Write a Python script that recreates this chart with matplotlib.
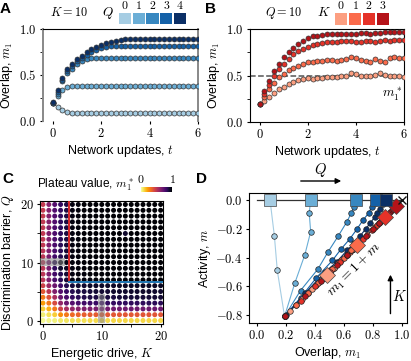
import numpy as np
import matplotlib
matplotlib.use("Agg")
import matplotlib.pyplot as plt
from matplotlib.ticker import FormatStrFormatter, MultipleLocator
from matplotlib.patches import Rectangle

plt.rcParams['font.family'] = ['Liberation Sans', 'DejaVu Sans']
plt.rcParams['mathtext.fontset'] = 'cm'
plt.rcParams['font.size'] = 9
plt.rcParams['axes.labelsize'] = 9
plt.rcParams['xtick.labelsize'] = 9
plt.rcParams['ytick.labelsize'] = 9
plt.rcParams['xtick.major.size'] = 2.5
plt.rcParams['ytick.major.size'] = 2.5
plt.rcParams['xtick.minor.size'] = 2.5
plt.rcParams['ytick.minor.size'] = 2.5
plt.rcParams['xtick.major.pad'] = 2
plt.rcParams['ytick.major.pad'] = 2

# ---- data ----
t = np.linspace(0, 6, 31)

# panel A: K = 10, Q = 0..4
a_q0 = [0.20, 0.15, 0.12, 0.10, 0.09, 0.09, 0.09, 0.09, 0.09, 0.09, 0.09, 0.09, 0.09, 0.09, 0.09, 0.09,
        0.09, 0.09, 0.09, 0.09, 0.09, 0.09, 0.09, 0.09, 0.09, 0.09, 0.09, 0.09, 0.09, 0.09, 0.09]
a_q1 = [0.20, 0.27, 0.34, 0.37, 0.38, 0.38, 0.38, 0.38, 0.38, 0.38, 0.38, 0.38, 0.38, 0.38, 0.38, 0.38,
        0.38, 0.38, 0.38, 0.38, 0.38, 0.38, 0.38, 0.38, 0.38, 0.38, 0.38, 0.38, 0.38, 0.38, 0.38]
a_q2 = [0.20, 0.29, 0.43, 0.52, 0.57, 0.62, 0.65, 0.67, 0.68, 0.68, 0.68, 0.68, 0.68, 0.68, 0.68, 0.68,
        0.68, 0.68, 0.68, 0.68, 0.68, 0.68, 0.68, 0.68, 0.68, 0.68, 0.68, 0.68, 0.68, 0.68, 0.68]
a_q3 = [0.20, 0.31, 0.45, 0.54, 0.60, 0.65, 0.69, 0.72, 0.75, 0.77, 0.79, 0.80, 0.81, 0.82, 0.82, 0.82,
        0.82, 0.82, 0.82, 0.82, 0.82, 0.82, 0.82, 0.82, 0.82, 0.82, 0.82, 0.82, 0.82, 0.82, 0.82]
a_q4 = [0.21, 0.34, 0.47, 0.56, 0.62, 0.67, 0.71, 0.75, 0.78, 0.80, 0.83, 0.85, 0.86, 0.87, 0.88, 0.89,
        0.89, 0.89, 0.89, 0.89, 0.89, 0.89, 0.89, 0.89, 0.89, 0.89, 0.89, 0.89, 0.89, 0.89, 0.89]
a_series = [a_q0, a_q1, a_q2, a_q3, a_q4]
a_labels = ['0', '1', '2', '3', '4']
blues = ['#a6cde3', '#6baed6', '#3787c0', '#1461a8', '#0b2f66']

# panel B: Q = 10, K = 0..3
b_k0 = [0.19, 0.23, 0.27, 0.31, 0.35, 0.38, 0.41, 0.43, 0.45, 0.46, 0.47, 0.46, 0.47, 0.47, 0.48, 0.48,
        0.48, 0.49, 0.50, 0.53, 0.52, 0.50, 0.50, 0.49, 0.51, 0.53, 0.51, 0.50, 0.50, 0.49, 0.48]
b_k1 = [0.19, 0.27, 0.35, 0.42, 0.48, 0.52, 0.56, 0.58, 0.60, 0.62, 0.64, 0.65, 0.66, 0.66, 0.67, 0.67,
        0.66, 0.67, 0.68, 0.70, 0.69, 0.67, 0.66, 0.65, 0.68, 0.66, 0.65, 0.69, 0.70, 0.69, 0.69]
b_k2 = [0.19, 0.30, 0.40, 0.50, 0.57, 0.62, 0.68, 0.73, 0.76, 0.79, 0.81, 0.83, 0.84, 0.85, 0.86, 0.86,
        0.86, 0.87, 0.87, 0.87, 0.86, 0.86, 0.87, 0.87, 0.86, 0.87, 0.88, 0.87, 0.88, 0.88, 0.88]
b_k3 = [0.19, 0.33, 0.44, 0.55, 0.62, 0.70, 0.75, 0.80, 0.84, 0.87, 0.90, 0.92, 0.93, 0.94, 0.95, 0.95,
        0.95, 0.95, 0.95, 0.95, 0.95, 0.96, 0.96, 0.95, 0.96, 0.96, 0.97, 0.97, 0.97, 0.97, 0.97]
b_series = [b_k0, b_k1, b_k2, b_k3]
b_labels = ['0', '1', '2', '3']
reds = ['#fc9f81', '#fb6b4b', '#e53228', '#b51319']

# panel C: plateau value m1* on the (K, Q) grid, rows Q = 0..20, columns K = 0..20
k_grid = np.arange(21)
q_grid = np.arange(21)
c_rows = [
    [0.02, 0.03, 0.04, 0.06, 0.07, 0.08, 0.08, 0.08, 0.09, 0.09, 0.09, 0.09, 0.10, 0.10, 0.10, 0.10, 0.10, 0.10, 0.10, 0.10, 0.10],
    [0.05, 0.08, 0.12, 0.25, 0.30, 0.33, 0.35, 0.36, 0.37, 0.37, 0.37, 0.38, 0.38, 0.38, 0.38, 0.38, 0.38, 0.39, 0.39, 0.39, 0.39],
    [0.12, 0.18, 0.30, 0.45, 0.55, 0.60, 0.63, 0.65, 0.66, 0.67, 0.68, 0.68, 0.69, 0.69, 0.69, 0.70, 0.70, 0.70, 0.70, 0.70, 0.70],
    [0.22, 0.30, 0.42, 0.60, 0.70, 0.75, 0.78, 0.80, 0.81, 0.82, 0.82, 0.83, 0.83, 0.83, 0.84, 0.84, 0.84, 0.84, 0.85, 0.85, 0.85],
    [0.30, 0.40, 0.55, 0.70, 0.78, 0.83, 0.85, 0.87, 0.88, 0.88, 0.89, 0.89, 0.89, 0.90, 0.90, 0.90, 0.90, 0.90, 0.90, 0.91, 0.91],
    [0.38, 0.50, 0.65, 0.75, 0.82, 0.86, 0.88, 0.89, 0.90, 0.91, 0.91, 0.91, 0.92, 0.92, 0.92, 0.92, 0.92, 0.92, 0.92, 0.92, 0.92],
    [0.45, 0.58, 0.70, 0.80, 0.86, 0.90, 0.92, 0.92, 0.93, 0.93, 0.93, 0.93, 0.93, 0.94, 0.94, 0.94, 0.94, 0.94, 0.94, 0.94, 0.94],
    [0.50, 0.65, 0.78, 0.85, 0.90, 0.97, 0.98, 0.98, 0.98, 0.99, 0.99, 0.99, 0.99, 0.99, 0.99, 0.99, 0.99, 0.99, 0.99, 0.99, 0.99],
    [0.50, 0.66, 0.80, 0.86, 0.91, 0.97, 0.98, 0.98, 0.99, 0.99, 0.99, 0.99, 0.99, 0.99, 0.99, 0.99, 0.99, 0.99, 0.99, 0.99, 0.99],
    [0.50, 0.67, 0.84, 0.92, 0.94, 0.97, 0.98, 0.99, 0.99, 0.99, 0.99, 0.99, 0.99, 0.99, 0.99, 0.99, 0.99, 0.99, 0.99, 0.99, 0.99],
    [0.50, 0.68, 0.87, 0.97, 0.96, 0.98, 0.98, 0.99, 0.99, 0.99, 0.99, 0.99, 0.99, 0.99, 0.99, 0.99, 0.99, 0.99, 0.99, 0.99, 0.99],
    [0.50, 0.67, 0.80, 0.86, 0.90, 0.97, 0.98, 0.99, 0.99, 0.99, 0.99, 0.99, 0.99, 0.99, 0.99, 0.99, 0.99, 0.99, 0.99, 0.99, 0.99],
    [0.50, 0.66, 0.78, 0.85, 0.90, 0.97, 0.98, 0.99, 0.99, 0.99, 0.99, 0.99, 0.99, 0.99, 0.99, 0.99, 0.99, 0.99, 0.99, 0.99, 0.99],
    [0.49, 0.66, 0.78, 0.85, 0.90, 0.97, 0.98, 0.99, 0.99, 0.99, 0.99, 0.99, 0.99, 0.99, 0.99, 0.99, 0.99, 0.99, 0.99, 0.99, 0.99],
    [0.49, 0.65, 0.77, 0.85, 0.89, 0.97, 0.98, 0.99, 0.99, 0.99, 0.99, 0.99, 0.99, 0.99, 0.99, 0.99, 0.99, 0.99, 0.99, 0.99, 0.99],
    [0.49, 0.65, 0.77, 0.84, 0.89, 0.97, 0.98, 0.99, 0.99, 0.99, 0.99, 0.99, 0.99, 0.99, 0.92, 0.99, 0.99, 0.99, 0.99, 0.99, 0.99],
    [0.49, 0.65, 0.77, 0.84, 0.89, 0.97, 0.98, 0.99, 0.99, 0.99, 0.99, 0.99, 0.99, 0.99, 0.99, 0.99, 0.99, 0.99, 0.99, 0.99, 0.99],
    [0.49, 0.64, 0.76, 0.84, 0.89, 0.97, 0.98, 0.99, 0.99, 0.99, 0.99, 0.99, 0.99, 0.99, 0.99, 0.99, 0.99, 0.99, 0.99, 0.99, 0.99],
    [0.48, 0.64, 0.76, 0.83, 0.88, 0.97, 0.98, 0.99, 0.99, 0.99, 0.99, 0.99, 0.99, 0.99, 0.99, 0.99, 0.99, 0.99, 0.99, 0.99, 0.99],
    [0.48, 0.64, 0.76, 0.83, 0.88, 0.97, 0.98, 0.99, 0.99, 0.99, 0.99, 0.99, 0.99, 0.99, 0.99, 0.99, 0.99, 0.99, 0.99, 0.99, 0.99],
    [0.48, 0.63, 0.75, 0.83, 0.88, 0.97, 0.98, 0.99, 0.99, 0.99, 0.99, 0.99, 0.99, 0.99, 0.99, 0.99, 0.99, 0.99, 0.99, 0.99, 0.99],
]
k_split = 4.4
q_split = 6.6

# panel D: trajectories in the (overlap, activity) plane
d_blue_m1 = [
    [0.19, 0.14, 0.12],
    [0.19, 0.26, 0.33, 0.37, 0.36],
    [0.19, 0.30, 0.42, 0.49, 0.56, 0.62, 0.65, 0.67],
    [0.19, 0.30, 0.41, 0.52, 0.58, 0.64, 0.69, 0.73, 0.77, 0.79, 0.81],
    [0.20, 0.33, 0.47, 0.55, 0.62, 0.67, 0.71, 0.75, 0.78, 0.81, 0.83, 0.85, 0.87],
]
d_blue_m = [
    [-0.81, -0.49, -0.25],
    [-0.81, -0.58, -0.38, -0.22, -0.09],
    [-0.81, -0.63, -0.48, -0.36, -0.25, -0.15, -0.09, -0.05],
    [-0.81, -0.68, -0.54, -0.42, -0.34, -0.27, -0.20, -0.14, -0.09, -0.05, -0.02],
    [-0.80, -0.65, -0.50, -0.43, -0.35, -0.30, -0.25, -0.20, -0.16, -0.12, -0.09, -0.06, -0.03],
]
d_square_m1 = [0.09, 0.37, 0.68, 0.82, 0.89]
d_diamond_m1 = [0.48, 0.69, 0.88, 0.96]
d_diamond_m = [-0.52, -0.31, -0.12, -0.04]

W, H = 411, 361


def px_axes(fig, left, top, right, bottom):
    return fig.add_axes([left / W, 1 - bottom / H, (right - left) / W, (bottom - top) / H])


def color_key(fig, left, top, right, bottom, colors, labels):
    ax = px_axes(fig, left, top, right, bottom)
    for i, c in enumerate(colors):
        ax.add_patch(Rectangle((i + 0.06, 0), 0.88, 1, fc=c, ec='none'))
    ax.set_xlim(0, len(colors))
    ax.set_ylim(0, 1)
    ax.set_xticks(np.arange(len(colors)) + 0.5)
    ax.set_xticklabels([f'${s}$' for s in labels], fontsize=8.5)
    ax.xaxis.tick_top()
    ax.tick_params(length=0, pad=1)
    ax.set_yticks([])
    for s in ax.spines.values():
        s.set_visible(False)
    return ax


fig = plt.figure(figsize=(W / 100, H / 100), dpi=100)

# ---- A ----
axA = px_axes(fig, 43, 29, 198, 121)
for ys, c in zip(a_series, blues):
    axA.plot(t, ys, 'o', ms=3.6, mfc=c, mec='#333333', mew=0.5, zorder=3)
axA.set_xlim(-0.4, 6)
axA.set_ylim(0, 1)
axA.set_xticks([0, 2, 4, 6])
axA.set_yticks([0, 0.5, 1.0])
axA.yaxis.set_minor_locator(MultipleLocator(0.25))
axA.xaxis.set_major_formatter(FormatStrFormatter('$%d$'))
axA.yaxis.set_major_formatter(FormatStrFormatter('$%.1f$'))
axA.spines['bottom'].set_visible(False)
for side in ['left', 'right']:
    axA.spines[side].set_color('#888888')
    axA.spines[side].set_linewidth(1.4)
axA.set_xlabel('Network updates, $t$', labelpad=2)
axA.set_ylabel('Overlap, $m_1$', labelpad=3)
fig.text(69 / W, 1 - 13 / H, '$K=10$', ha='center', va='center', fontsize=8.8)
fig.text(108 / W, 1 - 13 / H, '$Q$', ha='center', va='center', fontsize=9.5)
color_key(fig, 118, 13, 187, 24, blues, a_labels)

# ---- B ----
axB = px_axes(fig, 250, 29, 404, 122)
axB.axhline(0.5, color='#555555', ls='--', lw=1.1, zorder=1)
for ys, c in zip(b_series, reds):
    axB.plot(t, ys, 'o', ms=3.6, mfc=c, mec='#333333', mew=0.5, zorder=3)
axB.set_xlim(-0.4, 6)
axB.set_ylim(0, 1)
axB.set_xticks([0, 2, 4, 6])
axB.set_yticks([0, 0.5, 1.0])
axB.yaxis.set_minor_locator(MultipleLocator(0.25))
axB.xaxis.set_major_formatter(FormatStrFormatter('$%d$'))
axB.yaxis.set_major_formatter(FormatStrFormatter('$%.1f$'))
axB.text(5.5, 0.3, '$m_1^*$', ha='center', va='center', fontsize=9.5)
axB.set_xlabel('Network updates, $t$', labelpad=2)
axB.set_ylabel('Overlap, $m_1$', labelpad=3)
fig.text(284 / W, 1 - 13 / H, '$Q=10$', ha='center', va='center', fontsize=8.8)
fig.text(324 / W, 1 - 13 / H, '$K$', ha='center', va='center', fontsize=9.5)
color_key(fig, 334, 13, 390, 25, reds, b_labels)

# ---- C ----
axC = px_axes(fig, 40, 201, 163, 324)
KK, QQ = np.meshgrid(k_grid, q_grid)
vals = np.array(c_rows)
sc = axC.scatter(KK.ravel(), QQ.ravel(), c=vals.ravel(), cmap='inferno_r', vmin=0, vmax=1,
                 s=13, linewidths=0, zorder=2)
axC.add_patch(Rectangle((-0.5, 9.4), 4.2, 1.3, fc='#888888', ec='none', alpha=0.55, zorder=3))
axC.add_patch(Rectangle((9.4, -0.4), 1.2, 5.0, fc='#888888', ec='none', alpha=0.55, zorder=3))
axC.plot([k_split, k_split], [q_split, 20.6], color='#d62728', lw=1.4, zorder=4)
axC.plot([k_split, 20.4], [q_split, q_split], color='#1f77b4', lw=1.4, zorder=4)
axC.set_xlim(-0.5, 20.4)
axC.set_ylim(-0.6, 20.6)
axC.set_xticks([0, 10, 20])
axC.set_yticks([0, 10, 20])
axC.xaxis.set_minor_locator(MultipleLocator(5))
axC.yaxis.set_minor_locator(MultipleLocator(5))
axC.xaxis.set_major_formatter(FormatStrFormatter('$%d$'))
axC.yaxis.set_major_formatter(FormatStrFormatter('$%d$'))
axC.set_xlabel('Energetic drive, $K$', labelpad=2)
axC.set_ylabel('Discrimination barrier, $Q$', labelpad=3)

cax = px_axes(fig, 141, 187, 172, 192)
cb = fig.colorbar(sc, cax=cax, orientation='horizontal')
cb.outline.set_visible(False)
cax.xaxis.tick_top()
cb.set_ticks([0, 1])
cb.set_ticklabels(['$0$', '$1$'])
cax.tick_params(length=0, pad=1, labelsize=8.5)
fig.text(134 / W, 1 - 185 / H, 'Plateau value, $m_1^*$', ha='right', va='center', fontsize=8.6)

# ---- D ----
axD = px_axes(fig, 249, 193, 407, 323)
axD.plot([0, 1], [0, 0], color='#333333', lw=0.9, zorder=2)
axD.plot([0.19, 1.0], [-0.81, 0.0], color='#333333', lw=0.8, zorder=2)
for xs, ys, sq, c in zip(d_blue_m1, d_blue_m, d_square_m1, blues):
    axD.plot(list(xs) + [sq], list(ys) + [0], '-', color=c, lw=0.8, zorder=3)
    axD.plot(xs, ys, 'o', ms=4, mfc=c, mec='#222222', mew=0.5, zorder=4)
for ys, c in zip(b_series, reds):
    m1 = np.array(ys)
    axD.plot(m1, m1 - 1.0, 'o', ms=4, mfc=c, mec='#222222', mew=0.5, zorder=5)
for x, y, c in zip(d_diamond_m1, d_diamond_m, reds):
    axD.plot(x, y, 'D', ms=8.5, mfc=c, mec='#444444', mew=0.5, zorder=6)
for x, c in zip(d_square_m1, blues):
    axD.plot(x, 0, 's', ms=9, mfc=c, mec='#444444', mew=0.5, zorder=6)
axD.plot(1.0, 0.0, 'x', ms=6, color='#111111', mew=1.0, zorder=7)
axD.text(0.672, -0.487, '$m_1 = 1 + m$', rotation=45, ha='center', va='center', fontsize=10)
axD.annotate('', xy=(0.92, -0.5), xytext=(0.92, -0.81),
             arrowprops=dict(arrowstyle='-|>', color='black', lw=1.0, mutation_scale=8))
axD.text(0.985, -0.67, '$K$', ha='center', va='center', fontsize=10.5)
axD.set_xlim(-0.055, 1.034)
axD.set_ylim(-0.856, 0.05)
axD.set_xticks([0, 0.2, 0.4, 0.6, 0.8, 1.0])
axD.set_yticks([0, -0.2, -0.4, -0.6, -0.8])
axD.xaxis.set_major_formatter(FormatStrFormatter('$%.1f$'))
axD.yaxis.set_major_formatter(FormatStrFormatter('$%.1f$'))
axD.set_xlabel('Overlap, $m_1$', labelpad=2)
axD.set_ylabel('Activity, $m$', labelpad=2)

# Q arrow above D
fig.patches.append(matplotlib.patches.FancyArrowPatch(
    (298 / W, 1 - 181 / H), (344 / W, 1 - 181 / H), transform=fig.transFigure,
    arrowstyle='-|>', mutation_scale=8, color='black', lw=1.0))
fig.text(320 / W, 1 - 170 / H, '$Q$', ha='center', va='center', fontsize=10.5)

# panel letters
for lab, x, y in [('A', 0, 2), ('B', 205, 2), ('C', 2, 172), ('D', 196, 172)]:
    fig.text(x / W, 1 - y / H, lab, ha='left', va='top', fontsize=11, fontweight='bold')

fig.savefig('out.png', dpi=100)
